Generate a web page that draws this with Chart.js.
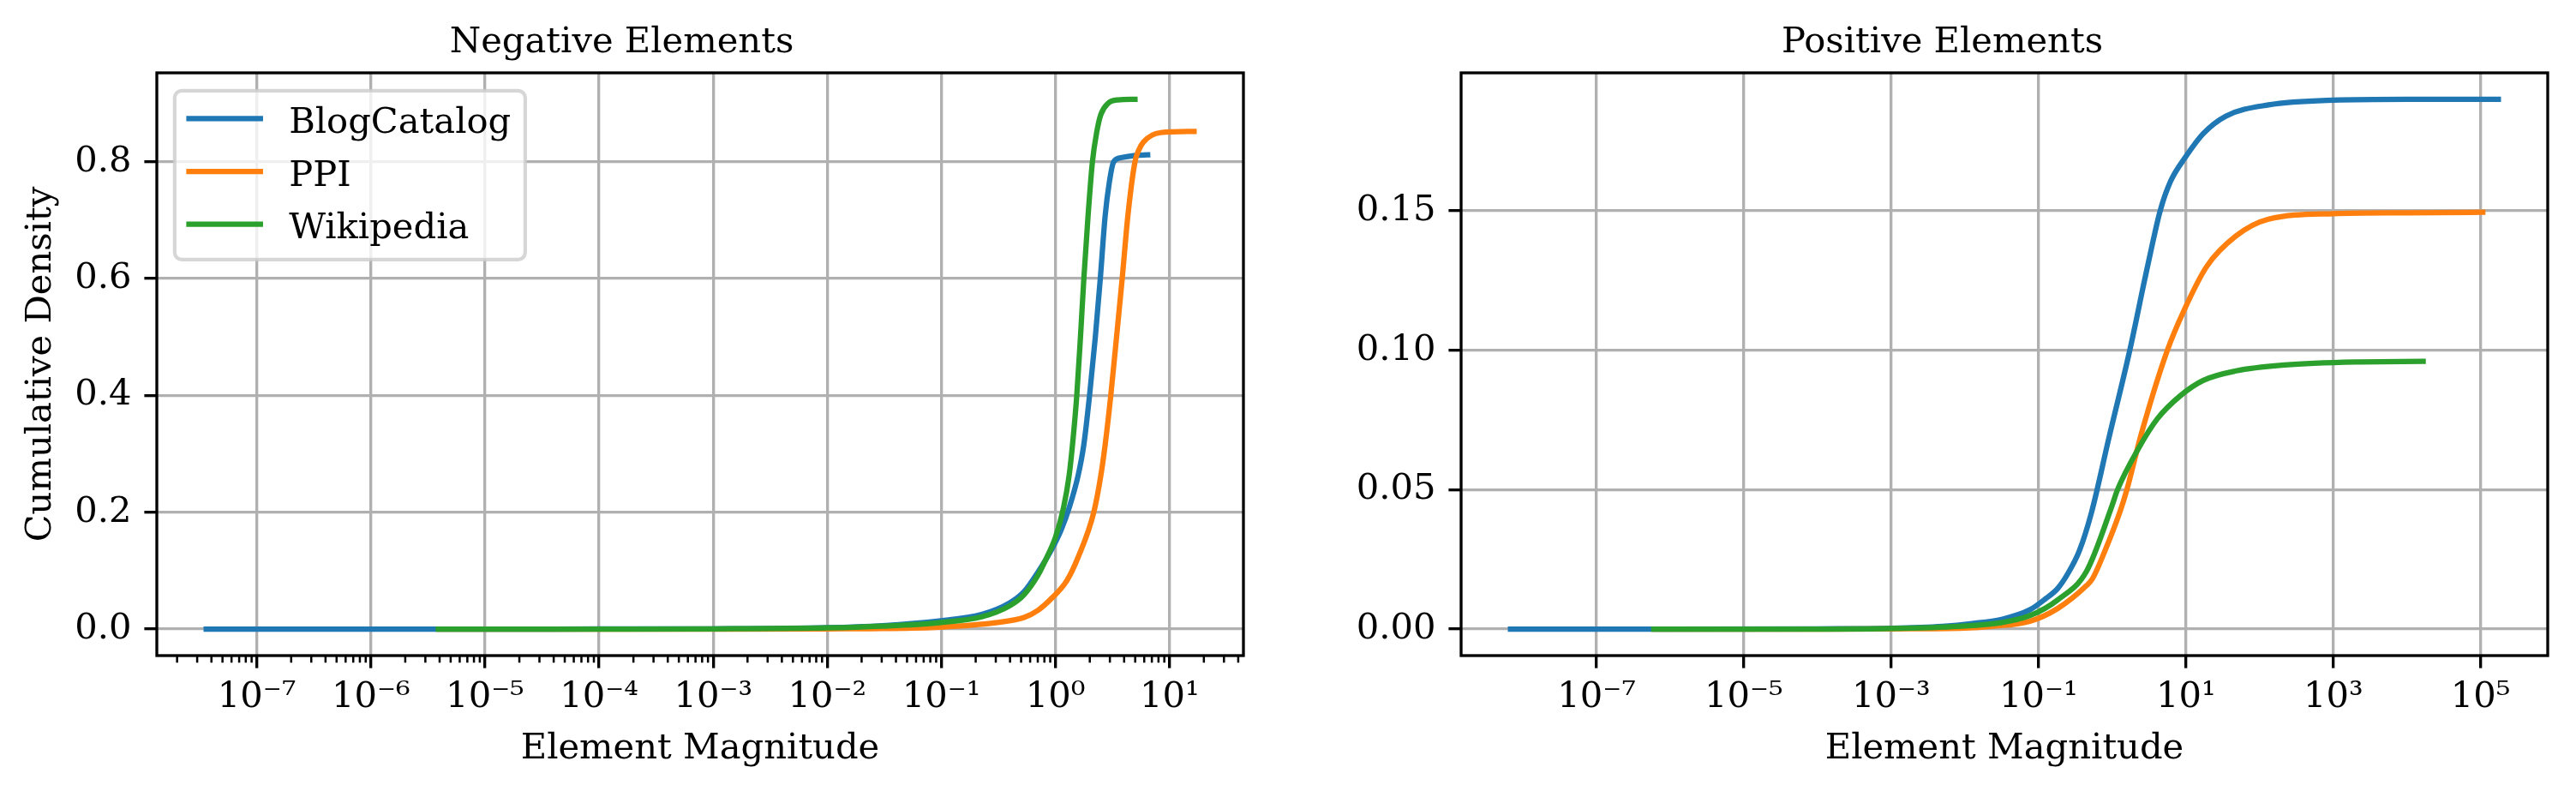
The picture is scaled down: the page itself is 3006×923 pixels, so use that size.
<!DOCTYPE html>
<html><head><meta charset="utf-8">
<script src="https://cdn.jsdelivr.net/npm/chart.js@4.4.1/dist/chart.umd.min.js"></script>
<style>
html,body{margin:0;padding:0;background:#fff;width:3006px;height:923px;overflow:hidden}
#c1{position:absolute;left:0;top:0}
#c2{position:absolute;left:1560px;top:0}
</style>
</head><body>
<canvas id="c1" width="1560" height="923"></canvas>
<canvas id="c2" width="1446" height="923"></canvas>
<script>
// ---------------- data ----------------
const seriesNames = ['BlogCatalog', 'PPI', 'Wikipedia'];

// Negative elements panel
const negBlogX = [3.6e-8, 1e-5, 1e-4, 1e-3, 0.01, 0.0305, 0.0955, 0.225, 0.398, 0.531, 0.706, 0.918, 1.122, 1.33, 1.58, 1.774, 1.99, 2.234, 2.472, 2.729, 2.972, 3.236, 3.741, 5.012, 6.43];
const negBlogY = [0, 0, 0.0002, 0.0005, 0.0024, 0.006, 0.014, 0.025, 0.045, 0.064, 0.098, 0.135, 0.170, 0.210, 0.263, 0.316, 0.400, 0.499, 0.600, 0.708, 0.766, 0.800, 0.807, 0.811, 0.812];
const negPpiX  = [4e-6, 1e-3, 0.01, 0.0305, 0.0955, 0.299, 0.531, 0.706, 0.94, 1.25, 1.58, 2.168, 2.50, 2.729, 3.055, 3.428, 3.846, 4.315, 4.977, 5.37, 5.916, 8.32, 16.4];
const negPpiY  = [0, 0.0001, 0.0005, 0.001, 0.0034, 0.011, 0.020, 0.0325, 0.054, 0.082, 0.123, 0.200, 0.263, 0.316, 0.400, 0.499, 0.600, 0.708, 0.800, 0.820, 0.834, 0.850, 0.852];
const negWikiX = [3.9e-6, 1e-4, 1e-3, 0.01, 0.0305, 0.0955, 0.225, 0.398, 0.531, 0.706, 0.841, 1.0, 1.175, 1.318, 1.426, 1.538, 1.656, 1.774, 1.932, 2.109, 2.296, 2.50, 2.884, 3.532, 4.977];
const negWikiY = [0, 0.0001, 0.0004, 0.002, 0.005, 0.011, 0.021, 0.040, 0.059, 0.093, 0.123, 0.157, 0.207, 0.263, 0.325, 0.400, 0.499, 0.600, 0.708, 0.800, 0.850, 0.881, 0.900, 0.906, 0.907];

// Positive elements panel
const posBlogX = [6.8e-9, 1e-6, 1e-4, 1e-3, 0.005, 0.0126, 0.0316, 0.0759, 0.126, 0.182, 0.251, 0.357, 0.525, 0.891, 1.73, 2.74, 3.37, 4.47, 6.19, 10.0, 17.2, 35.0, 132, 1000, 10000, 174000];
const posBlogY = [0, 0, 0.0001, 0.0003, 0.0010, 0.0020, 0.0035, 0.0069, 0.011, 0.0146, 0.020, 0.028, 0.042, 0.068, 0.100, 0.125, 0.136, 0.150, 0.1606, 0.1695, 0.1777, 0.184, 0.188, 0.1897, 0.190, 0.190];
const posPpiX  = [6.3e-7, 1e-4, 1e-3, 0.01, 0.0229, 0.0759, 0.182, 0.447, 0.537, 0.794, 1.29, 1.58, 2.48, 5.60, 9.31, 19.1, 47.9, 132, 1000, 10000, 107000];
const posPpiY  = [0, 0, 0.0001, 0.0004, 0.0010, 0.0028, 0.0074, 0.0156, 0.018, 0.028, 0.0425, 0.050, 0.070, 0.100, 0.114, 0.130, 0.141, 0.147, 0.149, 0.1493, 0.1495];
const posWikiX = [6.0e-7, 1e-4, 1e-3, 0.0083, 0.0309, 0.0759, 0.182, 0.447, 0.986, 1.18, 2.24, 4.12, 8.41, 17.2, 47.9, 219, 1995, 16600];
const posWikiY = [0, 0, 0.0002, 0.0010, 0.0023, 0.0048, 0.0105, 0.0207, 0.044, 0.050, 0.0645, 0.0755, 0.0837, 0.0892, 0.0926, 0.0947, 0.0958, 0.096];

// tick values
const negXTicks = [1e-7, 1e-6, 1e-5, 1e-4, 1e-3, 1e-2, 1e-1, 1e0, 1e1];
const posXTicks = [1e-7, 1e-5, 1e-3, 1e-1, 1e1, 1e3, 1e5];
const negYTicks = [0, 0.2, 0.4, 0.6, 0.8];
const posYTicks = [0, 0.05, 0.10, 0.15];

// ---------------- styling ----------------
const FS = 41.67;                 // 10pt at 300 dpi
const FONT = "'DejaVu Serif', serif";
const COLORS = ['#1f77b4', '#ff7f0e', '#2ca02c'];
Chart.defaults.font.family = FONT;
Chart.defaults.font.size = FS;
Chart.defaults.color = '#000';

const SUP = {'0':'⁰','1':'¹','2':'²','3':'³','4':'⁴','5':'⁵','6':'⁶','7':'⁷','8':'⁸','9':'⁹','-':'⁻'};
const fmtPow = v => '10' + String(Math.round(Math.log10(v))).split('').map(c => SUP[c]).join('');

const pts = (xs, ys) => xs.map((x, i) => ({x, y: ys[i]}));

// matplotlib-like 5% margins
function logRange(xsList) {
  const all = xsList.flat().map(Math.log10);
  const lo = Math.min(...all), hi = Math.max(...all), m = (hi - lo) * 0.05;
  return [Math.pow(10, lo - m), Math.pow(10, hi + m)];
}
function linRange(ysList) {
  const all = ysList.flat();
  const lo = Math.min(...all), hi = Math.max(...all), m = (hi - lo) * 0.05;
  return [lo - m, hi + m];
}

const framePlugin = {
  id: 'mplFrame',
  afterDatasetsDraw(chart, args, opts) {
    const {ctx, chartArea: a} = chart;
    ctx.save();
    if (opts.minor) {
      const xs = chart.scales.x;
      ctx.strokeStyle = '#000';
      ctx.lineWidth = 2.5;
      ctx.beginPath();
      const e0 = Math.floor(Math.log10(xs.min)), e1 = Math.ceil(Math.log10(xs.max));
      for (let e = e0; e <= e1; e++) {
        for (let m = 2; m <= 9; m++) {
          const v = m * Math.pow(10, e);
          if (v < xs.min || v > xs.max) continue;
          const px = xs.getPixelForValue(v);
          ctx.moveTo(px, a.bottom);
          ctx.lineTo(px, a.bottom + 8.3);
        }
      }
      ctx.stroke();
    }
    ctx.strokeStyle = '#000';
    ctx.lineWidth = 3.33;
    ctx.lineJoin = 'miter';
    ctx.strokeRect(a.left, a.top, a.right - a.left, a.bottom - a.top);
    ctx.restore();
  },
  afterDraw(chart, args, opts) {
    if (!opts.legend) return;
    const {ctx, chartArea: a} = chart;
    const ds = chart.data.datasets;
    ctx.save();
    ctx.font = FS + 'px ' + FONT;
    const tw = Math.max(...ds.map(d => ctx.measureText(d.label).width));
    const fx = a.left + 0.5 * FS, fy = a.top + 0.5 * FS;
    const fw = 0.4 * FS + 2 * FS + 0.8 * FS + tw + 0.4 * FS;
    const fh = 4.73 * FS;
    const r = 0.2 * FS;
    ctx.beginPath();
    ctx.roundRect(fx, fy, fw, fh, r);
    ctx.fillStyle = 'rgba(255,255,255,0.8)';
    ctx.fill();
    ctx.strokeStyle = 'rgba(204,204,204,0.8)';
    ctx.lineWidth = 4.17;
    ctx.stroke();
    ds.forEach((d, i) => {
      const cy = fy + 0.78 * FS + i * 1.48 * FS;
      const hx = fx + 0.4 * FS;
      ctx.beginPath();
      ctx.strokeStyle = d.borderColor;
      ctx.lineWidth = 6.25;
      ctx.lineCap = 'square';
      ctx.moveTo(hx, cy);
      ctx.lineTo(hx + 2 * FS, cy);
      ctx.stroke();
      ctx.fillStyle = '#000';
      ctx.textBaseline = 'alphabetic';
      ctx.textAlign = 'left';
      ctx.fillText(d.label, hx + 2.8 * FS, cy + 16.7);
    });
    ctx.restore();
  }
};

function makeChart(canvasId, cfg) {
  const [xmin, xmax] = logRange(cfg.xs);
  const [ymin, ymax] = linRange(cfg.ys);
  const grid = {color: '#b0b0b0', lineWidth: 3.33, tickColor: '#000', tickLength: 14.6, tickWidth: 3.33, drawTicks: true};
  return new Chart(document.getElementById(canvasId), {
    type: 'line',
    data: {
      datasets: seriesNames.map((name, i) => ({
        label: name,
        data: pts(cfg.xs[i], cfg.ys[i]),
        borderColor: COLORS[i],
        backgroundColor: COLORS[i],
        borderWidth: 6.25,
        borderCapStyle: 'square',
        borderJoinStyle: 'round',
        pointRadius: 0,
        fill: false,
        cubicInterpolationMode: 'monotone',
        order: 2 - i
      }))
    },
    options: {
      responsive: false,
      animation: false,
      devicePixelRatio: 1,
      layout: {padding: {left: 0, right: cfg.padRight, top: 0, bottom: 0}},
      plugins: {
        legend: {display: false},
        tooltip: {enabled: false},
        title: {display: true, text: cfg.title, color: '#000', font: {size: FS, weight: 'normal'}, padding: {top: 25, bottom: 10}},
        mplFrame: {minor: cfg.minor, legend: cfg.legend}
      },
      scales: {
        x: {
          type: 'logarithmic', min: xmin, max: xmax, bounds: 'data',
          afterBuildTicks: s => { s.ticks = cfg.xTicks.map(v => ({value: v})); },
          afterFit: s => { s.height = 158; },
          ticks: {callback: v => fmtPow(v), autoSkip: false, maxRotation: 0, minRotation: 0, padding: 10, color: '#000', font: {size: FS}},
          grid: grid,
          border: {display: false},
          title: {display: true, text: 'Element Magnitude', color: '#000', font: {size: FS}, padding: {top: 0, bottom: 24}}
        },
        y: {
          type: 'linear', min: ymin, max: ymax, bounds: 'data',
          afterBuildTicks: s => { s.ticks = cfg.yTicks.map(v => ({value: v})); },
          afterFit: s => { s.width = cfg.yWidth; },
          ticks: {callback: v => Number(v).toFixed(cfg.yDec), autoSkip: false, padding: 15, color: '#000', font: {size: FS}},
          grid: grid,
          border: {display: false},
          title: {display: !!cfg.ylabel, text: cfg.ylabel || '', color: '#000', font: {size: FS}, padding: {top: 23, bottom: 0}}
        }
      }
    },
    plugins: [framePlugin]
  });
}

makeChart('c1', {
  title: 'Negative Elements',
  xs: [negBlogX, negPpiX, negWikiX],
  ys: [negBlogY, negPpiY, negWikiY],
  xTicks: negXTicks, yTicks: negYTicks, yDec: 1,
  ylabel: 'Cumulative Density',
  yWidth: 183, padRight: 109,
  minor: true, legend: true
});

makeChart('c2', {
  title: 'Positive Elements',
  xs: [posBlogX, posPpiX, posWikiX],
  ys: [posBlogY, posPpiY, posWikiY],
  xTicks: posXTicks, yTicks: posYTicks, yDec: 2,
  ylabel: '',
  yWidth: 145, padRight: 33,
  minor: false, legend: false
});
</script>
</body></html>
